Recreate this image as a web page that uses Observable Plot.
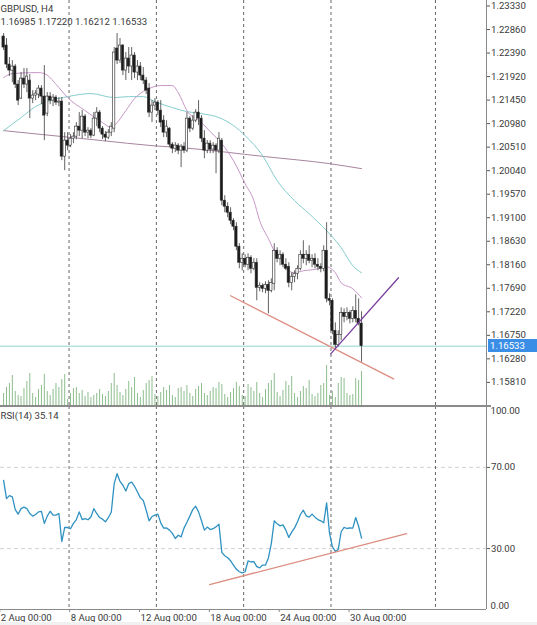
<!DOCTYPE html>
<html><head><meta charset="utf-8">
<script src="https://cdn.jsdelivr.net/npm/d3@7"></script>
<script src="https://cdn.jsdelivr.net/npm/@observablehq/plot@0.6"></script>
<style>
html,body{margin:0;padding:0;background:#fff;}
#wrap{position:relative;width:537px;height:625px;overflow:hidden;background:#fff;font-family:Roboto,sans-serif;}
#wrap svg{position:absolute;left:0;}
</style></head><body><div id="wrap"></div>
<script>
const symbol = "GBPUSD, H4";
const rsiName = "RSI(14)";

const open = [1.2272,1.2254,1.2216,1.2204,1.2212,1.2176,1.2148,1.2188,1.2176,1.2184,
1.2148,1.2154,1.2156,1.2168,1.2152,1.2118,1.2152,1.2144,1.2150,1.2140,
1.2142,1.2032,1.2064,1.2054,1.2068,1.2072,1.2092,1.2084,1.2112,1.2080,
1.2084,1.2074,1.2108,1.2120,1.2088,1.2076,1.2070,1.2080,1.2088,1.2248,
1.2224,1.2254,1.2204,1.2228,1.2212,1.2234,1.2200,1.2212,1.2194,1.2184,
1.2168,1.2120,1.2134,1.2140,1.2124,1.2104,1.2080,1.2088,1.2056,1.2048,
1.2054,1.2044,1.2052,1.2044,1.2108,1.2088,1.2104,1.2120,1.2108,1.2068,
1.2044,1.2058,1.2046,1.2054,1.2044,1.2064,1.1944,1.1932,1.1920,1.1904,
1.1892,1.1852,1.1820,1.1828,1.1816,1.1830,1.1808,1.1820,1.1770,1.1774,
1.1768,1.1776,1.1764,1.1778,1.1844,1.1828,1.1836,1.1816,1.1812,1.1780,
1.1792,1.1798,1.1808,1.1836,1.1828,1.1836,1.1824,1.1828,1.1816,1.1812,
1.1808,1.1844,1.1748,1.1744,1.1684,1.1656,1.1676,1.1720,1.1712,1.1720,
1.1708,1.1724,1.1708,1.16985];
const high = [1.2278,1.2268,1.2230,1.2224,1.2216,1.2184,1.2200,1.2208,1.2208,1.2196,
1.2164,1.2164,1.2174,1.2174,1.2214,1.2160,1.2160,1.2156,1.2154,1.2150,
1.2150,1.2080,1.2080,1.2076,1.2080,1.2100,1.2120,1.2124,1.2116,1.2090,
1.2088,1.2120,1.2130,1.2124,1.2092,1.2082,1.2086,1.2100,1.2250,1.2278,
1.2268,1.2256,1.2240,1.2250,1.2250,1.2240,1.2224,1.2220,1.2210,1.2190,
1.2178,1.2144,1.2148,1.2144,1.2144,1.2114,1.2104,1.2090,1.2060,1.2060,
1.2058,1.2056,1.2060,1.2120,1.2112,1.2114,1.2126,1.2144,1.2114,1.2084,
1.2064,1.2064,1.2060,1.2058,1.2080,1.2068,1.1954,1.1940,1.1930,1.1908,
1.1900,1.1858,1.1838,1.1836,1.1838,1.1834,1.1828,1.1828,1.1780,1.1778,
1.1782,1.1784,1.1788,1.1858,1.1850,1.1844,1.1840,1.1828,1.1820,1.1800,
1.1804,1.1814,1.1844,1.1864,1.1844,1.1854,1.1836,1.1838,1.1828,1.1818,
1.1854,1.1900,1.1758,1.1748,1.1700,1.1684,1.1730,1.1728,1.1730,1.1724,
1.1732,1.1756,1.1748,1.17220];
const low = [1.2244,1.2208,1.2192,1.2180,1.2168,1.2134,1.2146,1.2168,1.2160,1.2108,
1.2138,1.2144,1.2148,1.2136,1.2064,1.2112,1.2136,1.2132,1.2134,1.2132,
1.2024,1.2004,1.2044,1.2050,1.2058,1.2066,1.2072,1.2068,1.2072,1.2068,
1.2068,1.2072,1.2092,1.2080,1.2066,1.2062,1.2066,1.2072,1.2080,1.2216,
1.2218,1.2194,1.2184,1.2198,1.2184,1.2188,1.2184,1.2184,1.2176,1.2156,
1.2110,1.2100,1.2124,1.2114,1.2090,1.2070,1.2070,1.2050,1.2038,1.2040,
1.2036,1.2010,1.2038,1.2040,1.2080,1.2084,1.2100,1.2094,1.2060,1.2028,
1.2038,1.2038,1.2038,1.1998,1.2038,1.1934,1.1920,1.1910,1.1896,1.1884,
1.1844,1.1808,1.1804,1.1810,1.1804,1.1798,1.1804,1.1744,1.1762,1.1760,
1.1758,1.1718,1.1760,1.1764,1.1820,1.1814,1.1810,1.1804,1.1770,1.1764,
1.1780,1.1786,1.1804,1.1818,1.1814,1.1818,1.1810,1.1808,1.1804,1.1800,
1.1802,1.1740,1.1734,1.1676,1.1648,1.1652,1.1664,1.1700,1.1704,1.1698,
1.1700,1.1700,1.1694,1.16212];
const close = [1.2250,1.2216,1.2204,1.2212,1.2176,1.2144,1.2188,1.2176,1.2192,1.2148,
1.2154,1.2158,1.2168,1.2152,1.2114,1.2152,1.2144,1.2150,1.2140,1.2142,
1.2032,1.2064,1.2054,1.2068,1.2072,1.2092,1.2084,1.2112,1.2080,1.2084,
1.2074,1.2108,1.2120,1.2088,1.2076,1.2070,1.2080,1.2092,1.2240,1.2224,
1.2254,1.2204,1.2228,1.2212,1.2234,1.2200,1.2212,1.2194,1.2184,1.2164,
1.2120,1.2134,1.2140,1.2124,1.2100,1.2080,1.2092,1.2056,1.2048,1.2054,
1.2044,1.2052,1.2044,1.2108,1.2088,1.2104,1.2120,1.2108,1.2068,1.2044,
1.2058,1.2046,1.2054,1.2044,1.2068,1.1944,1.1932,1.1920,1.1904,1.1892,
1.1852,1.1820,1.1828,1.1816,1.1830,1.1808,1.1820,1.1770,1.1774,1.1768,
1.1776,1.1764,1.1780,1.1844,1.1828,1.1836,1.1816,1.1808,1.1780,1.1792,
1.1798,1.1808,1.1836,1.1828,1.1836,1.1824,1.1828,1.1816,1.1812,1.1808,
1.1844,1.1748,1.1744,1.1684,1.1656,1.1676,1.1720,1.1712,1.1720,1.1708,
1.1724,1.1708,1.16985,1.16533];
const volume = [12,18,22,30,14,10, 9,17,24,32,12,8, 16,20,31,14,10,16, 22,18,26,31,6,12,
17,18,12,15,9,13, 8,10,12,16,11,9, 14,22,32,20,13,10, 16,24,18,28,12,8,
15,22,25,29,11,9, 13,18,15,20,10,8, 17,18,14,20,12,9, 16,19,22,12,10,14,
18,17,23,21,11,8, 13,17,23,19,10,9, 21,18,14,23,12,8, 16,22,25,32,13,9,
15,24,20,29,12,8, 14,19,17,25,11,9, 12,20,22,40,10,14, 8,22,28,27,12,10,
11,27,25,34];
const rsi = [63.6,54.6,56.1,55.5,49.2,47.0,49.7,50.4,49.7,47.3,
46.0,46.8,48.1,48.3,42.4,46.0,48.4,46.5,46.5,47.3,
33.5,40.4,40.4,39.8,42.4,44.3,48.1,44.3,44.8,44.2,
45.6,49.7,47.3,45.3,44.5,43.2,45.3,47.9,62.0,66.9,
63.1,61.2,58.4,62.0,62.8,60.7,57.9,55.0,53.7,48.9,
43.7,45.8,46.5,47.0,42.7,40.1,40.2,39.1,37.5,35.0,
36.6,35.8,40.1,43.0,46.0,49.2,50.9,48.1,43.7,39.1,
40.6,39.4,39.8,40.7,42.0,28.0,26.5,25.5,24.0,21.9,
19.8,18.6,18.0,18.6,23.9,23.4,23.6,21.1,20.5,21.9,
21.9,25.4,32.6,43.7,42.2,41.2,41.7,39.1,35.5,38.1,
40.2,43.2,46.8,48.9,46.1,45.5,47.0,45.5,44.3,43.7,
42.7,52.5,37.5,30.9,28.6,29.6,38.3,40.4,39.9,40.2,
40.1,45.3,41.0,35.14];

const maFastBar = [0,3,12,14,19,22,28,34,37,39,42,45,50,54,58,60,63,68,71,75,79,83,86,88,91,93,95,98,100,103,106,108,111,112,114,116,120,123];
const maFastVal = [1.2190,1.2198,1.2200,1.2198,1.2170,1.2150,1.2124,1.2100,1.2090,1.2100,1.2124,1.2148,1.2168,1.2174,1.2174,1.2160,1.2124,1.2100,1.2082,1.2058,1.2024,1.1978,1.1944,1.1904,1.1868,1.1844,1.1830,1.1804,1.1800,1.1804,1.1806,1.1808,1.1812,1.1810,1.1800,1.1780,1.1768,1.1750];
const maMidBar = [0,6,11,16,22,30,38,43,48,52,58,63,68,74,79,83,89,94,100,105,111,116,120,123];
const maMidVal = [1.2084,1.2110,1.2132,1.2144,1.2152,1.2158,1.2150,1.2152,1.2152,1.2142,1.2130,1.2122,1.2118,1.2110,1.2094,1.2074,1.2034,1.1984,1.1944,1.1918,1.1884,1.1850,1.1814,1.1800];
const maSlowBar = [0,17,34,51,61,90,112,123];
const maSlowVal = [1.2084,1.2074,1.2064,1.2054,1.2050,1.2032,1.2018,1.2008];

const supportBar = [78.0, 134.0], supportVal = [1.1754, 1.1588];
const risingBar = [112.4, 135.7], risingVal = [1.1638, 1.1790];
const rsiTrendBar = [70.8, 138.5], rsiTrendVal = [12.3, 37.4];

const weekSeparators = [22.5, 52.5, 82.5, 112.5, 148.4];
const xLabelBars = [-1.3, 22.7, 46.7, 70.7, 94.7, 118.7];
const xLabels = ["2 Aug 00:00","8 Aug 00:00","12 Aug 00:00","18 Aug 00:00","24 Aug 00:00","30 Aug 00:00"];
const priceTicks = [1.2333,1.2286,1.2239,1.2192,1.2145,1.2098,1.2051,1.2004,1.1957,1.1910,1.1863,1.1816,1.1769,1.1722,1.1675,1.1628,1.1581];
const rsiGrid = [70, 30];
const rsiTop = [100], rsiBottom = [0];

// ---- build tables
const bars = open.map((o, i) => ({i, o, h: high[i], l: low[i], c: close[i], v: volume[i], r: rsi[i]}));
const pts = (b, v) => b.map((x, k) => ({i: x, v: v[k]}));
const last = bars[bars.length - 1];
const xDomain = [-1.065, 165.94];
const priceDomain = [1.15348, 1.2344];
const font = "Roboto, sans-serif";
const txt = "#3a3a3a";
const dash = {stroke: "#555", strokeDasharray: "3,3", strokeWidth: 0.9};

const wrap = document.getElementById("wrap");

const volPlot = Plot.plot({
  width: 537, height: 405, marginLeft: 0, marginRight: 51, marginTop: 0, marginBottom: 0,
  style: {background: "transparent"},
  x: {domain: xDomain, axis: null}, y: {domain: [0, 405], axis: null},
  marks: [Plot.ruleX(bars, {x: "i", y1: 0, y2: "v", stroke: "#8dbd8d", strokeWidth: 1})]
});
volPlot.style.top = "0px";
wrap.appendChild(volPlot);

const main = Plot.plot({
  width: 537, height: 405, marginLeft: 0, marginRight: 51, marginTop: 0, marginBottom: 0,
  style: {background: "transparent", fontFamily: font, fontSize: "9.6px", color: "#555", overflow: "visible"},
  x: {domain: xDomain, axis: null},
  y: {domain: priceDomain},
  marks: [
    Plot.ruleX(weekSeparators, dash),
    Plot.ruleY([last.c], {stroke: "#93d3cf", strokeWidth: 1}),
    Plot.line(pts(maSlowBar, maSlowVal), {x: "i", y: "v", stroke: "#a8849f", strokeWidth: 1, curve: "monotone-x"}),
    Plot.line(pts(maMidBar, maMidVal), {x: "i", y: "v", stroke: "#86cccc", strokeWidth: 1, curve: "monotone-x"}),
    Plot.line(pts(maFastBar, maFastVal), {x: "i", y: "v", stroke: "#c796c7", strokeWidth: 1, curve: "monotone-x"}),
    Plot.ruleX(bars, {x: "i", y1: "l", y2: "h", stroke: "#3a3a3a", strokeWidth: 0.8}),
    Plot.rect(bars, {x1: d => d.i - 0.4, x2: d => d.i + 0.4, y1: "o", y2: "c",
      fill: d => d.c >= d.o ? "#ffffff" : "#1c1c1c", stroke: "#2a2a2a", strokeWidth: 0.6}),
    Plot.line(pts(supportBar, supportVal), {x: "i", y: "v", stroke: "#dd8d80", strokeWidth: 1.3}),
    Plot.line(pts(risingBar, risingVal), {x: "i", y: "v", stroke: "#7a40a0", strokeWidth: 1.3}),
    Plot.ruleX([xDomain[1]], {stroke: "#8a8a8a", strokeWidth: 1}),
    Plot.axisY({anchor: "right", ticks: priceTicks, tickFormat: d => d.toFixed(5), tickSize: 3, tickPadding: 1.5, label: null, fill: txt}),
    Plot.text([symbol], {frameAnchor: "top-left", text: d => d, textAnchor: "start", lineAnchor: "top", dy: 5, fill: txt}),
    Plot.text([[last.o, last.h, last.l, last.c].map(v => v.toFixed(5)).join(" ")], {frameAnchor: "top-left", text: d => d, textAnchor: "start", lineAnchor: "top", dy: 17.5, fill: txt})
  ]
});
main.style.top = "0px";
wrap.appendChild(main);

const rsiPlot = Plot.plot({
  width: 537, height: 220, marginLeft: 0, marginRight: 51, marginTop: 1, marginBottom: 16,
  style: {background: "transparent", fontFamily: font, fontSize: "9.6px", color: "#555", overflow: "visible"},
  x: {domain: xDomain, axis: null},
  y: {domain: [0, 100]},
  marks: [
    Plot.ruleY(rsiGrid, {stroke: "#d2d2d2", strokeDasharray: "4,3", strokeWidth: 1}),
    Plot.ruleX(weekSeparators, dash),
    Plot.line(bars, {x: "i", y: "r", stroke: "#2f92c2", strokeWidth: 1.3}),
    Plot.line(pts(rsiTrendBar, rsiTrendVal), {x: "i", y: "v", stroke: "#dd8d80", strokeWidth: 1.3}),
    Plot.ruleX([xDomain[1]], {stroke: "#8a8a8a", strokeWidth: 1}),
    Plot.ruleY(rsiBottom, {stroke: "#8a8a8a", strokeWidth: 1}),
    Plot.axisY({anchor: "right", ticks: rsiGrid, tickFormat: d => d.toFixed(2), tickSize: 3, tickPadding: 1.5, label: null, fill: txt}),
    Plot.text(rsiTop, {x: xDomain[1], y: d => d, text: d => d.toFixed(2), textAnchor: "start", lineAnchor: "top", dx: 4, dy: 1, fill: txt}),
    Plot.text(rsiBottom, {x: xDomain[1], y: d => d, text: d => d.toFixed(2), textAnchor: "start", lineAnchor: "bottom", dx: 4, dy: -1, fill: txt}),
    Plot.ruleX(xLabelBars, {y1: 0, y2: -1.5, stroke: "#8a8a8a"}),
    Plot.text(xLabelBars, {x: d => d, y: 0, text: (d, k) => xLabels[k], textAnchor: "start", lineAnchor: "middle", dx: 1, dy: 8, fill: txt}),
    Plot.text([`${rsiName} ${last.r.toFixed(2)}`], {frameAnchor: "top-left", text: d => d, textAnchor: "start", lineAnchor: "top", dy: 5.5, fill: txt})
  ]
});
rsiPlot.style.top = "405px";
wrap.appendChild(rsiPlot);

// panel divider
const div = document.createElement("div");
Object.assign(div.style, {position: "absolute", left: "0px", top: "405px", width: "491px", height: "2px", background: "#8a8a8a"});
wrap.appendChild(div);
// bottom strip
const strip = document.createElement("div");
Object.assign(strip.style, {position: "absolute", left: "0px", top: "622px", width: "537px", height: "3px", background: "#f1f1f1"});
wrap.appendChild(strip);
// current price tag
const yPx = main.scale("y").apply(last.c);
const tag = document.createElement("div");
tag.textContent = last.c.toFixed(5);
Object.assign(tag.style, {position: "absolute", left: "488px", top: (yPx - 6.5) + "px", width: "49px", height: "13px",
  lineHeight: "13px", background: "#3a8ee6", color: "#ffffff", fontSize: "9.6px", fontFamily: font, paddingLeft: "2px", boxSizing: "border-box"});
wrap.appendChild(tag);
</script>
</body></html>
